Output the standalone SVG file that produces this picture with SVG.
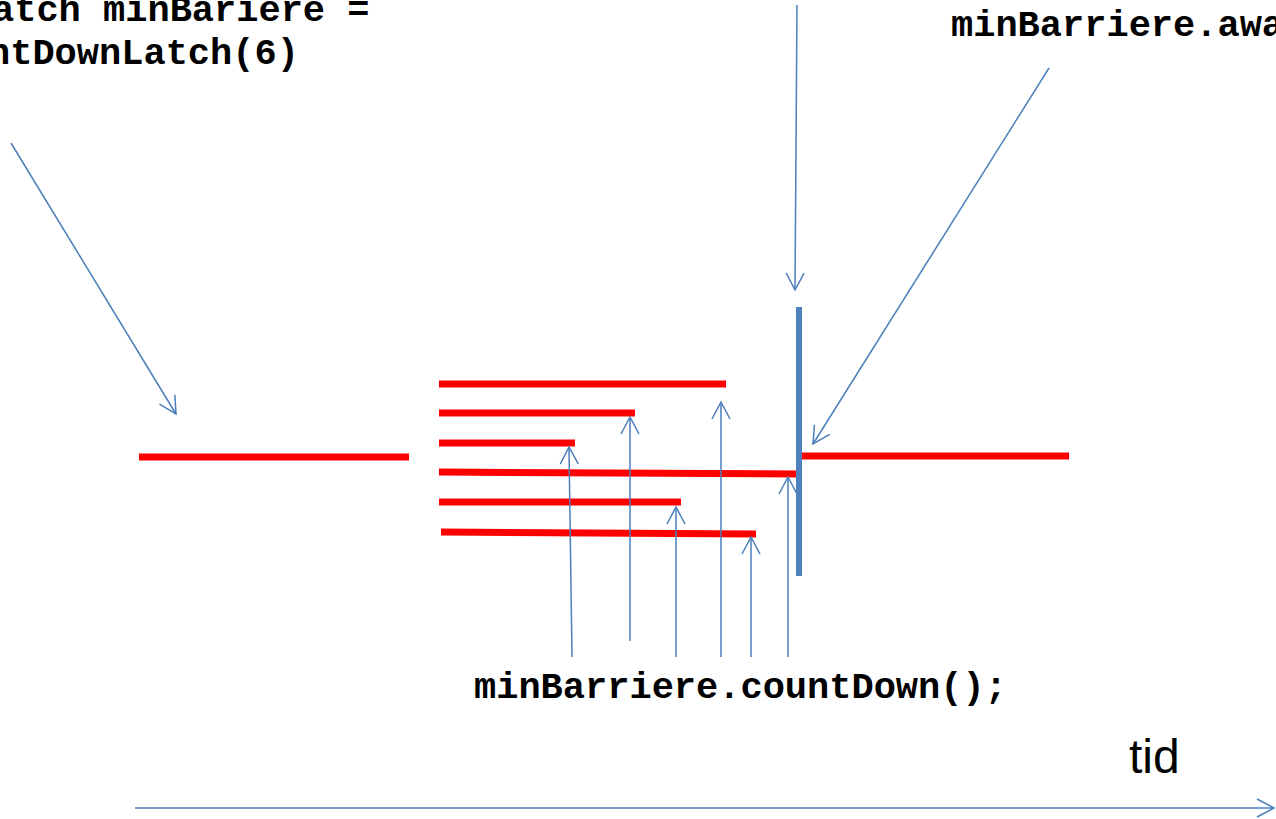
<svg xmlns="http://www.w3.org/2000/svg" width="1276" height="819" viewBox="0 0 1276 819">
  <style>
    .code { font-family: "Liberation Mono", "Courier New", monospace; font-weight: bold; font-size: 37px; fill: #000; }
    .lbl { font-family: "Liberation Sans", Arial, sans-serif; font-size: 48px; fill: #000; }
    .red { stroke: #FF0000; stroke-width: 7; fill: none; }
    .con { stroke: #4A7EBB; stroke-width: 1.5; fill: none; marker-end: url(#arr); }
  </style>
  <defs>
    <marker id="arr" markerUnits="userSpaceOnUse" markerWidth="24" markerHeight="24" viewBox="-20 -12 24 24" refX="0" refY="0" orient="auto">
      <path d="M-17,-9 L0,0 L-17,9" fill="none" stroke="#4A7EBB" stroke-width="1.5"/>
    </marker>
  </defs>
  <rect width="1276" height="819" fill="#fff"/>

  <g id="label-latch">
    <text class="code" x="-8" y="21">atch minBariere =</text>
    <text class="code" x="-12" y="64">ntDownLatch(6)</text>
  </g>
  <g id="label-await">
    <text class="code" x="951" y="36">minBarriere.awa</text>
  </g>
  <g id="label-countdown">
    <text class="code" x="474" y="698">minBarriere.countDown();</text>
  </g>
  <g id="label-tid">
    <text class="lbl" x="1129" y="773">tid</text>
  </g>

  <g id="threads">
    <line class="red" x1="139" y1="457" x2="409" y2="457"/>
    <line class="red" x1="802" y1="456" x2="1069" y2="456"/>
    <line class="red" x1="439" y1="384" x2="726" y2="384"/>
    <line class="red" x1="439" y1="413" x2="635" y2="413"/>
    <line class="red" x1="439" y1="443" x2="575" y2="443"/>
    <line class="red" x1="439" y1="472" x2="797" y2="474"/>
    <line class="red" x1="439" y1="502" x2="681" y2="502"/>
    <line class="red" x1="441" y1="532" x2="756" y2="534"/>
  </g>

  <g id="barrier">
    <rect x="796" y="307" width="6" height="269" fill="#4F81BD"/>
  </g>

  <g id="connectors">
    <line class="con" x1="11" y1="143" x2="176" y2="414"/>
    <line class="con" x1="797" y1="5" x2="795" y2="290"/>
    <line class="con" x1="1049" y1="68" x2="813" y2="444"/>
    <line class="con" x1="572" y1="657" x2="569" y2="447"/>
    <line class="con" x1="630" y1="641" x2="630" y2="417"/>
    <line class="con" x1="676" y1="657" x2="676" y2="507"/>
    <line class="con" x1="721" y1="657" x2="721" y2="402"/>
    <line class="con" x1="751" y1="657" x2="751" y2="537"/>
    <line class="con" x1="788" y1="657" x2="788" y2="477"/>
    <line class="con" x1="135" y1="808" x2="1274" y2="808"/>
  </g>
</svg>
